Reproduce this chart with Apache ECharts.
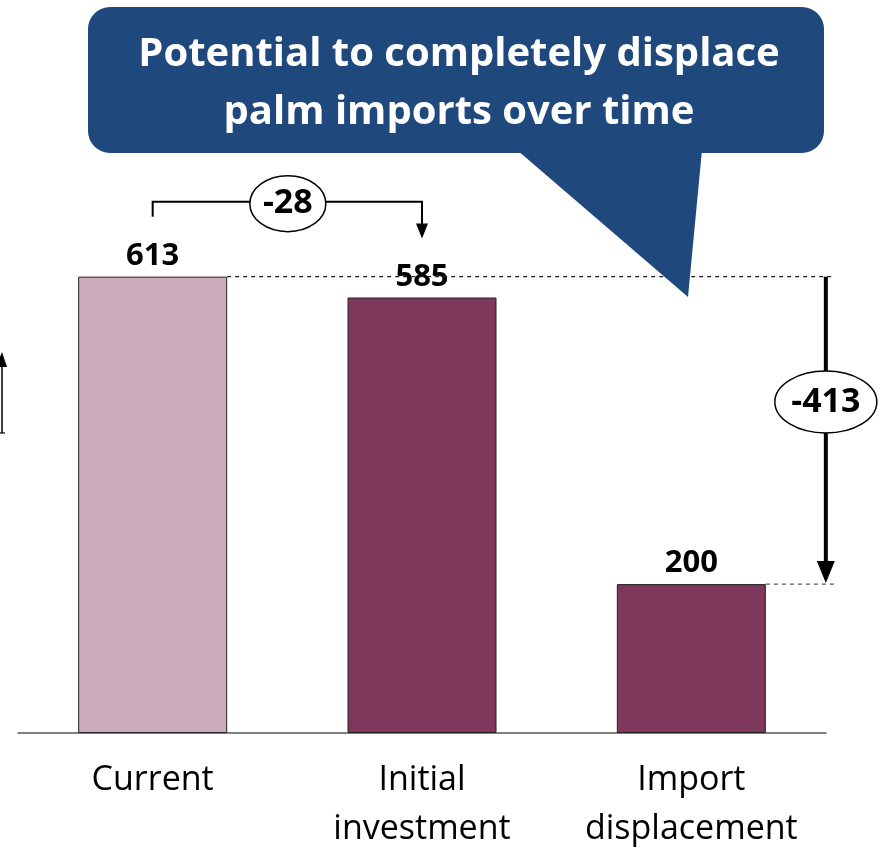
<!DOCTYPE html>
<html>
<head>
<meta charset="utf-8">
<script src="https://cdn.jsdelivr.net/npm/echarts@6/dist/echarts.min.js"></script>
<style>
html,body{margin:0;padding:0;background:#fff;overflow:hidden;}
#chart{width:885px;height:854px;}
</style>
</head>
<body>
<div id="chart"></div>
<script>
const categories = ['Current', 'Initial\ninvestment', 'Import\ndisplacement'];
const values = [613, 585, 200];
const changeLabels = ['-28', '-413'];
const calloutLines = ['Potential to completely displace', 'palm imports over time'];

const FONT = '"Open Sans", "Noto Sans", sans-serif';
const barColors = ['#CCABBC', '#7E385C', '#7E385C'];
const BAR_W = 149;

const chart = echarts.init(document.getElementById('chart'), null, {renderer: 'canvas'});

chart.setOption({
  animation: false,
  backgroundColor: '#ffffff',
  grid: {left: 18, right: 59, top: 63, bottom: 117, containLabel: false},
  xAxis: {
    type: 'category',
    data: categories,
    axisLine: {show: true, lineStyle: {color: '#555555', width: 1.5}},
    axisTick: {show: false},
    axisLabel: {color: '#000', fontFamily: FONT, fontSize: 34, lineHeight: 49, margin: 23, interval: 0}
  },
  yAxis: {type: 'value', min: 0, max: 900, show: false, splitLine: {show: false}},
  series: [{
    type: 'bar',
    barWidth: BAR_W,
    data: values.map((v, i) => ({value: v, itemStyle: {color: barColors[i]}})),
    itemStyle: {borderColor: '#222', borderWidth: 1},
    label: {show: true, position: 'top', distance: 5, color: '#000', fontFamily: FONT, fontWeight: 'bold', fontSize: 31}
  }]
});

function px(i, v) { return chart.convertToPixel({gridIndex: 0}, [i, v]); }

const p0 = px(0, values[0]);
const p1 = px(1, values[1]);
const p2 = px(2, values[2]);
const barRight0 = p0[0] + BAR_W / 2;
const barRight2 = p2[0] + BAR_W / 2;
const arrowX = barRight2 + 60;
const dashEnd = arrowX + 8;

const g = [];
// dashed reference lines
g.push({type: 'line', shape: {x1: barRight0, y1: p0[1], x2: dashEnd, y2: p0[1]},
  style: {stroke: '#222', lineWidth: 1.2, lineDash: [4, 4]}, z: 5});
g.push({type: 'line', shape: {x1: barRight2, y1: p2[1], x2: dashEnd, y2: p2[1]},
  style: {stroke: '#555', lineWidth: 1.2, lineDash: [4, 4]}, z: 5});

// -28 bracket
const by = p0[1] - 75;
g.push({type: 'polyline', shape: {points: [[p0[0], p0[1] - 60], [p0[0], by], [p1[0], by], [p1[0], p1[1] - 72]]},
  style: {stroke: '#000', lineWidth: 2, fill: null}, z: 6});
g.push({type: 'polygon', shape: {points: [[p1[0] - 6, p1[1] - 74], [p1[0] + 6, p1[1] - 74], [p1[0], p1[1] - 59]]},
  style: {fill: '#000'}, z: 6});
const ex1 = (p0[0] + p1[0]) / 2 + 0.5;
g.push({type: 'ellipse', shape: {cx: ex1, cy: by + 2, rx: 38, ry: 28},
  style: {fill: '#fff', stroke: '#000', lineWidth: 1.5}, z: 7});
g.push({type: 'text', x: ex1, y: by + 2, z: 8,
  style: {text: changeLabels[0], fill: '#000', font: 'bold 34px ' + FONT, align: 'center', verticalAlign: 'middle'}});

// -413 arrow
g.push({type: 'line', shape: {x1: arrowX, y1: p0[1], x2: arrowX, y2: p2[1] - 20},
  style: {stroke: '#000', lineWidth: 4}, z: 6});
g.push({type: 'polygon', shape: {points: [[arrowX - 9, p2[1] - 23], [arrowX + 9, p2[1] - 23], [arrowX, p2[1] - 1]]},
  style: {fill: '#000'}, z: 6});
const ey2 = 402;
g.push({type: 'ellipse', shape: {cx: arrowX, cy: ey2, rx: 51, ry: 31},
  style: {fill: '#fff', stroke: '#000', lineWidth: 1.5}, z: 7});
g.push({type: 'text', x: arrowX, y: ey2, z: 8,
  style: {text: changeLabels[1], fill: '#000', font: 'bold 34px ' + FONT, align: 'center', verticalAlign: 'middle'}});

// partial arrow at left edge
g.push({type: 'line', shape: {x1: 2, y1: 364, x2: 2, y2: 433}, style: {stroke: '#000', lineWidth: 1.5}, z: 6});
g.push({type: 'line', shape: {x1: 0, y1: 433, x2: 5, y2: 433}, style: {stroke: '#000', lineWidth: 1.2}, z: 6});
g.push({type: 'polygon', shape: {points: [[-4, 367], [2, 352], [7, 367]]}, style: {fill: '#000'}, z: 6});

// callout
const CALLOUT = '#1F497D';
g.push({type: 'rect', shape: {x: 88, y: 7, width: 736, height: 146, r: 22}, style: {fill: CALLOUT}, z: 10});
g.push({type: 'polygon', shape: {points: [[517, 150], [702, 150], [688, 297]]}, style: {fill: CALLOUT}, z: 10});
g.push({type: 'text', x: 459, y: 55, z: 11,
  style: {text: calloutLines[0], fill: '#fff', font: 'bold 40px ' + FONT, align: 'center', verticalAlign: 'middle'}});
g.push({type: 'text', x: 459, y: 113, z: 11,
  style: {text: calloutLines[1], fill: '#fff', font: 'bold 40px ' + FONT, align: 'center', verticalAlign: 'middle'}});

chart.setOption({graphic: g});
</script>
</body>
</html>
